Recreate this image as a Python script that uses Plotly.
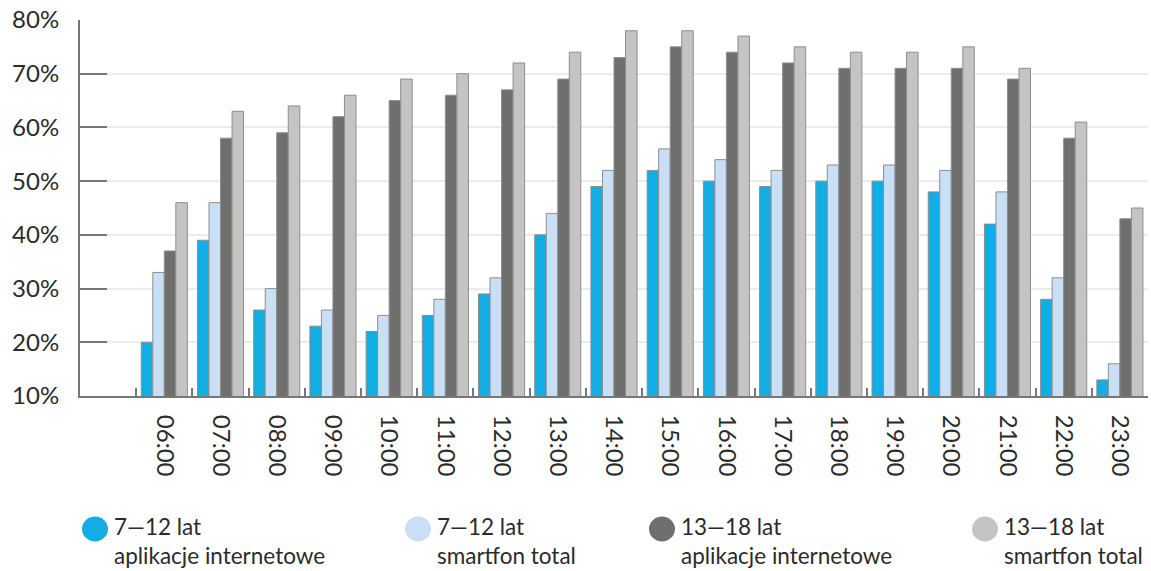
import plotly.graph_objects as go

hours = ["06:00", "07:00", "08:00", "09:00", "10:00", "11:00", "12:00", "13:00", "14:00",
         "15:00", "16:00", "17:00", "18:00", "19:00", "20:00", "21:00", "22:00", "23:00"]

kids_apps = [20, 39, 26, 23, 22, 25, 29, 40, 49, 52, 50, 49, 50, 50, 48, 42, 28, 13]
kids_total = [33, 46, 30, 26, 25, 28, 32, 44, 52, 56, 54, 52, 53, 53, 52, 48, 32, 16]
teen_apps = [37, 58, 59, 62, 65, 66, 67, 69, 73, 75, 74, 72, 71, 71, 71, 69, 58, 43]
teen_total = [46, 63, 64, 66, 69, 70, 72, 74, 78, 78, 77, 75, 74, 74, 75, 71, 61, 45]

y_ticks = [10, 20, 30, 40, 50, 60, 70, 80]
y_labels = ["10%", "20%", "30%", "40%", "50%", "60%", "70%", "80%"]

series_names = ["7—12 lat<br>aplikacje internetowe", "7—12 lat<br>smartfon total",
                "13—18 lat<br>aplikacje internetowe", "13—18 lat<br>smartfon total"]
series_values = [kids_apps, kids_total, teen_apps, teen_total]
colors = ["#12ade3", "#c9dff5", "#6f6f6e", "#c4c4c4"]

W, H = 1151, 571
ML, MR, MT, MB = 80, 3, 20, 175
PW, PH = W - ML - MR, H - MT - MB

FONT = "Lato"
TXT = "#2b2b2b"
AX = "#777777"

fig = go.Figure()
for name, vals, col in zip(series_names, series_values, colors):
    fig.add_trace(go.Bar(
        x=hours, y=vals, name=name, marker_color=col,
        marker_line_color="#8e8e8e", marker_line_width=1,
        showlegend=False,
    ))

# custom legend: circles + text
legend_cx = [95, 418, 662, 985]
legend_cy = 529
shapes = []
annotations = []
for cx, col, name in zip(legend_cx, colors, series_names):
    xp = (cx - ML) / PW
    yp = (MT + PH - legend_cy) / PH
    shapes.append(dict(type="circle", xref="paper", yref="paper",
                       xsizemode="pixel", ysizemode="pixel",
                       xanchor=xp, yanchor=yp,
                       x0=-13, x1=13, y0=-12.5, y1=12.5,
                       fillcolor=col, line=dict(width=0)))
    annotations.append(dict(xref="paper", yref="paper",
                            x=(cx + 17 - ML) / PW,
                            y=(MT + PH - 541) / PH,
                            xanchor="left", yanchor="middle", align="left",
                            showarrow=False, text=name,
                            font=dict(family=FONT, size=22.5, color=TXT)))

fig.update_layout(
    width=W, height=H,
    margin=dict(l=ML, r=MR, t=MT, b=MB),
    paper_bgcolor="white", plot_bgcolor="white",
    barmode="group", bargap=0.18, bargroupgap=0,
    font=dict(family=FONT, size=24, color=TXT),
    shapes=shapes, annotations=annotations,
    showlegend=False,
)
fig.update_xaxes(
    type="category", categoryorder="array", categoryarray=hours,
    range=[-1.5, len(hours) - 0.5],
    tickson="boundaries", ticks="inside", ticklen=8, tickwidth=2, tickcolor=AX,
    showline=True, linecolor=AX, linewidth=2,
    showgrid=False, tickangle=90, ticklabelstandoff=12,
    tickfont=dict(family=FONT, size=24, color=TXT),
)
fig.update_yaxes(
    range=[10, 80], tickmode="array", tickvals=y_ticks, ticktext=y_labels,
    ticks="inside", ticklen=27, tickwidth=2, tickcolor=AX,
    showline=True, linecolor=AX, linewidth=2,
    showgrid=True, gridcolor="#ececec", gridwidth=2,
    zeroline=False, ticklabelstandoff=14,
    tickfont=dict(family=FONT, size=24, color=TXT),
)

fig.write_html("out.html")
